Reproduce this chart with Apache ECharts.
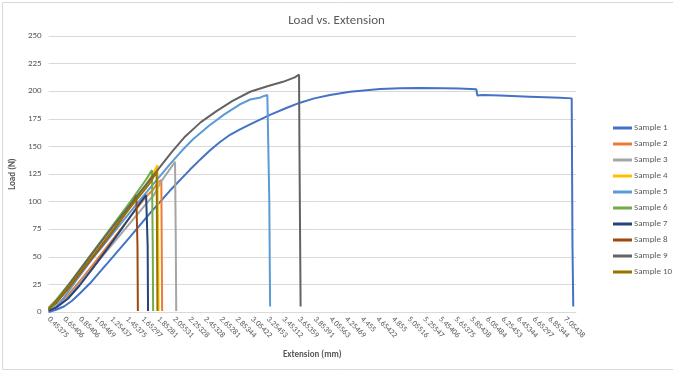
<!DOCTYPE html>
<html>
<head>
<meta charset="utf-8">
<script src="https://cdn.jsdelivr.net/npm/echarts@6/dist/echarts.min.js"></script>
<style>html,body{margin:0;padding:0;background:#fff}#c{width:673px;height:372px}</style>
</head>
<body>
<div id="c"></div>
<script>
// Category tick labels on the extension axis (mm)
const xTickLabels = [0.45375,0.65406,0.85406,1.05469,1.25437,1.45375,1.65297,1.85281,2.05531,2.25328,2.45328,2.65281,2.85344,3.05422,3.25453,3.45312,3.65359,3.85391,4.05563,4.25469,4.455,4.65422,4.855,5.05516,5.25547,5.45406,5.65375,5.85438,6.05484,6.25453,6.45344,6.65297,6.85344,7.05438];
const seriesNames = ['Sample 1','Sample 2','Sample 3','Sample 4','Sample 5','Sample 6','Sample 7','Sample 8','Sample 9','Sample 10'];

// [extension (mm), load (N)]
const sample1 = [[0.454,0],[0.55,2],[0.65,5],[0.75,10],[0.856,17],[0.984,26],[1.112,36.5],[1.24,47],[1.495,68],[1.751,89.5],[2.006,110],[2.262,129],[2.39,138],[2.518,146.5],[2.645,154],[2.773,160.5],[2.901,165.5],[3.029,170],[3.284,178.5],[3.5,185],[3.668,189.6],[3.85,193.5],[4.051,196.6],[4.307,199.6],[4.69,202],[4.946,202.7],[5.2,203],[5.495,202.7],[5.7,202.5],[5.92,201.8],[5.935,196],[6.0,196.5],[6.224,196],[6.6,195],[6.99,194],[7.14,193.5],[7.15,60],[7.16,5]];
const sample2 = [[0.455,1],[0.55,5],[0.7,15],[0.9,32],[1.1,50],[1.3,68],[1.5,86.5],[1.65,100],[1.72,106],[1.78,110],[1.85,117],[1.895,119.6],[1.9,60],[1.905,1]];
const sample3 = [[0.455,1],[0.55,4],[0.7,13],[0.9,30],[1.1,47],[1.3,64],[1.5,81],[1.7,98],[1.8,106],[1.9,119],[2.0,129],[2.07,136],[2.078,136],[2.08,60],[2.085,1]];
const sample4 = [[0.455,3],[0.55,9],[0.7,21],[0.9,39],[1.1,57.5],[1.3,76],[1.5,95],[1.7,115],[1.8,127],[1.845,133],[1.85,134.5],[1.855,60],[1.86,1]];
const sample5 = [[0.455,1],[0.55,5],[0.65,13],[0.8,28],[1.0,47],[1.2,64.5],[1.4,82],[1.6,99.5],[1.8,116.5],[2.0,133.5],[2.156,146],[2.3,156.5],[2.5,168.5],[2.7,179],[2.9,188],[3.03,192.5],[3.15,194],[3.2,195.5],[3.215,194.5],[3.25,196.5],[3.27,197],[3.275,100],[3.285,5]];
const sample6 = [[0.455,4],[0.55,11],[0.7,24],[0.9,43],[1.1,62],[1.3,81],[1.5,100],[1.7,120],[1.775,128.5],[1.78,129],[1.785,60],[1.79,1]];
const sample7 = [[0.455,1],[0.55,4],[0.7,12],[0.85,24],[1.0,38],[1.2,57],[1.4,76.5],[1.6,96.5],[1.7,106],[1.715,107.5],[1.72,60],[1.725,1]];
const sample8 = [[0.455,3],[0.55,8],[0.7,21],[0.9,39],[1.1,57],[1.3,75.5],[1.5,96],[1.575,105.5],[1.585,106],[1.59,60],[1.595,1]];
const sample9 = [[0.455,2],[0.5,6],[0.6,14],[0.8,33],[1.0,52],[1.2,70.5],[1.4,88.5],[1.6,106.5],[1.8,124.5],[2.03,145],[2.2,159],[2.4,172],[2.6,182],[2.8,191],[3.03,199.5],[3.25,204.5],[3.45,208.5],[3.6,212.5],[3.655,215],[3.66,150],[3.675,5]];
const sample10 = [[0.455,3],[0.55,9],[0.7,22],[0.9,40],[1.1,58],[1.3,76.5],[1.5,95],[1.65,108],[1.75,117],[1.82,125],[1.835,127],[1.84,60],[1.845,1]];

const allSamples = [sample1,sample2,sample3,sample4,sample5,sample6,sample7,sample8,sample9,sample10];
const colors = ['#4472C4','#ED7D31','#A5A5A5','#FFC000','#5B9BD5','#70AD47','#264478','#9E480E','#636363','#997300'];
const FONT = "Calibri, Carlito, 'Liberation Sans', sans-serif";

const chart = echarts.init(document.getElementById('c'));
chart.setOption({
  animation: false,
  color: colors,
  textStyle: {fontFamily: FONT},
  graphic: [{type:'rect', shape:{x:2.5,y:2.5,width:680,height:367}, style:{fill:'none',stroke:'#D9D9D9',lineWidth:1}, silent:true}],
  title: {text:'Load vs. Extension', left:'center', top:9, textStyle:{fontSize:13, fontWeight:'normal', color:'#595959', fontFamily:FONT}},
  legend: {
    orient:'vertical', left:608, top:117, icon:'rect', itemWidth:19, itemHeight:3, itemGap:4,
    textStyle:{fontSize:9, color:'#595959', lineHeight:12, padding:[0,0,0,-3]},
    data: seriesNames
  },
  grid: {left:48, right:97, top:36, bottom:60},
  xAxis: {
    type:'value', min:0.45375, max:7.195,
    name:'Extension (mm)', nameLocation:'middle', nameGap:38,
    nameTextStyle:{fontSize:9, fontWeight:'bold', color:'#595959'},
    axisLine:{show:true, lineStyle:{color:'#D9D9D9'}},
    axisTick:{show:false, customValues:xTickLabels},
    splitLine:{show:false},
    axisLabel:{customValues:xTickLabels, rotate:-45, fontSize:8, color:'#595959', margin:6, showMinLabel:true, formatter: v => String(v)}
  },
  yAxis: {
    type:'value', min:0, max:250, interval:25,
    name:'Load (N)', nameLocation:'middle', nameGap:17, nameRotate:90,
    nameTextStyle:{fontSize:9, fontWeight:'bold', color:'#595959'},
    axisLine:{show:false}, axisTick:{show:false},
    splitLine:{lineStyle:{color:'#D9D9D9'}},
    axisLabel:{fontSize:9, color:'#595959', margin:7}
  },
  series: allSamples.map((d,i) => ({
    name: seriesNames[i], type:'line', data:d, showSymbol:false, symbol:'none',
    lineStyle:{width:2, color:colors[i]}, itemStyle:{color:colors[i]}
  }))
});
</script>
</body>
</html>
